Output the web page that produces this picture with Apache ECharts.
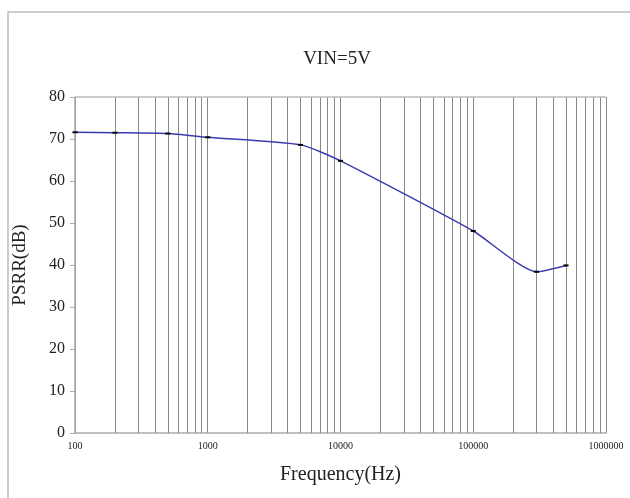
<!DOCTYPE html>
<html>
<head>
    <meta charset="utf-8">
    <title>PSRR</title>
    <script src="https://cdn.jsdelivr.net/npm/echarts@6/dist/echarts.min.js"></script>
    <style>
        body { margin: 0; background: #fff; }
    </style>
</head>
<body>
    <div id="main" style="width: 630px;height:498px;"></div>
    <script type="text/javascript">

    // measured points (Hz, dB)
    var freqData = [100, 200, 500, 1000, 5000, 10000, 100000, 300000, 500000];
    var psrrData = [71.6, 71.5, 71.3, 70.4, 68.6, 64.8, 48.1, 38.4, 39.9];

    // grid line positions inside each decade
    var decades = [100, 1000, 10000, 100000];
    var minorSteps = [2, 3, 4, 5, 6, 7, 8, 9];

    var gridFreqs = [];
    decades.forEach(d => {
        minorSteps.forEach(m => gridFreqs.push(d * m));
    });

    var serif = 'Liberation Serif';
    var myChart = echarts.init(document.getElementById('main'));

    var option = {
        backgroundColor: '#fff',
        animation: false,
        title: {
            text: 'VIN=5V',
            left: 332,
            top: 45,
            textAlign: 'center',
            textStyle: { fontFamily: serif, fontSize: 19, fontWeight: 'normal', color: '#222' }
        },
        graphic: [{
            type: 'rect',
            shape: { x: 8, y: 12, width: 700, height: 600 },
            style: { fill: 'none', stroke: '#bdbdbd', lineWidth: 1.5 },
            silent: true
        }],
        grid: { left: 75, right: 24, top: 97, bottom: 65 },
        xAxis: {
            type: 'log',
            logBase: 10,
            min: 100,
            max: 1000000,
            name: 'Frequency(Hz)',
            nameLocation: 'middle',
            nameGap: 32,
            nameTextStyle: { fontFamily: serif, fontSize: 20, color: '#222' },
            axisLine: { lineStyle: { color: '#aaa', width: 1.5 } },
            axisTick: { show: false },
            axisLabel: {
                fontFamily: serif, fontSize: 10, color: '#222', margin: 8,
                formatter: v => String(Math.round(v))
            },
            splitLine: { show: true, lineStyle: { color: '#888', width: 1 } }
        },
        yAxis: {
            type: 'value',
            min: 0,
            max: 80,
            interval: 10,
            name: 'PSRR(dB)',
            nameLocation: 'middle',
            nameGap: 45,
            nameTextStyle: { fontFamily: serif, fontSize: 19, color: '#222' },
            axisLine: { show: true, lineStyle: { color: '#aaa', width: 1.5 } },
            axisTick: { show: true, length: 5, lineStyle: { color: '#aaa' } },
            axisLabel: { fontFamily: serif, fontSize: 16, color: '#222', margin: 10 },
            splitLine: { show: false }
        },
        series: [{
            name: 'grid',
            type: 'line',
            data: [],
            z: 1,
            markLine: {
                silent: true,
                symbol: ['none', 'none'],
                label: { show: false },
                lineStyle: { color: '#888', type: 'solid', width: 1 },
                data: gridFreqs.map(f => ({ xAxis: f }))
            }
        }, {
            name: 'top',
            type: 'line',
            data: [],
            z: 1,
            markLine: {
                silent: true,
                symbol: ['none', 'none'],
                label: { show: false },
                lineStyle: { color: '#bbb', type: 'solid', width: 1.5 },
                data: [{ yAxis: 80 }]
            }
        }, {
            name: 'PSRR',
            type: 'line',
            z: 5,
            smooth: 0.2,
            data: freqData.map((f, i) => [f, psrrData[i]]),
            symbol: 'rect',
            symbolSize: [5, 2],
            itemStyle: { color: '#000' },
            lineStyle: { color: '#3c3cb0', width: 1.5 }
        }]
    };

    myChart.setOption(option);
    </script>
</body>
</html>
